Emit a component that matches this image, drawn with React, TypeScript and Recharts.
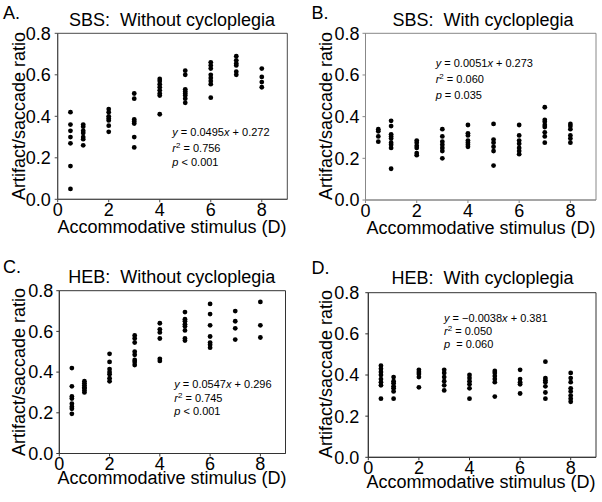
import React from 'react';
import { ScatterChart, Scatter, XAxis, YAxis, ReferenceArea } from 'recharts';

const stimulus = [0.5, 1, 2, 3, 4, 5, 6, 7, 8];
const xTicks = [0, 2, 4, 6, 8];
const yTicks = [0, 0.2, 0.4, 0.6, 0.8];

const sbsWithout: number[][] = [
  [0.42, 0.36, 0.33, 0.3, 0.27, 0.16, 0.05],
  [0.36, 0.35, 0.33, 0.32, 0.3, 0.29, 0.26],
  [0.435, 0.42, 0.4, 0.39, 0.38, 0.355, 0.325],
  [0.51, 0.485, 0.385, 0.375, 0.365, 0.3, 0.25],
  [0.58, 0.57, 0.555, 0.54, 0.525, 0.51, 0.5, 0.41],
  [0.62, 0.6, 0.53, 0.52, 0.51, 0.5, 0.485, 0.465],
  [0.66, 0.645, 0.63, 0.6, 0.585, 0.57, 0.555, 0.49],
  [0.69, 0.67, 0.655, 0.645, 0.615, 0.6],
  [0.63, 0.59, 0.565, 0.54],
];

const sbsWith: number[][] = [
  [0.34, 0.33, 0.305, 0.28],
  [0.38, 0.355, 0.315, 0.305, 0.295, 0.275, 0.265, 0.25, 0.15],
  [0.285, 0.275, 0.26, 0.25, 0.225, 0.215],
  [0.34, 0.305, 0.28, 0.265, 0.25, 0.235, 0.2],
  [0.36, 0.32, 0.31, 0.285, 0.275, 0.265, 0.255],
  [0.365, 0.29, 0.275, 0.255, 0.235, 0.165],
  [0.36, 0.31, 0.285, 0.27, 0.25, 0.235, 0.22],
  [0.445, 0.385, 0.375, 0.36, 0.35, 0.325, 0.305, 0.275],
  [0.365, 0.355, 0.34, 0.31, 0.295, 0.275],
];

const hebWithout: number[][] = [
  [0.42, 0.33, 0.28, 0.27, 0.245, 0.23, 0.22, 0.195],
  [0.355, 0.345, 0.335, 0.325, 0.32, 0.31, 0.3],
  [0.49, 0.45, 0.415, 0.4, 0.39, 0.37, 0.355],
  [0.58, 0.565, 0.545, 0.5, 0.485, 0.46, 0.45, 0.435],
  [0.64, 0.61, 0.595, 0.565, 0.465, 0.455],
  [0.695, 0.66, 0.65, 0.635, 0.625, 0.605, 0.565, 0.555],
  [0.735, 0.685, 0.63, 0.575, 0.545, 0.535, 0.52],
  [0.7, 0.65, 0.615, 0.56],
  [0.745, 0.63, 0.57],
];

const hebWith: number[][] = [
  [0.445, 0.43, 0.415, 0.4, 0.38, 0.365, 0.35, 0.285],
  [0.39, 0.37, 0.36, 0.345, 0.335, 0.32, 0.285],
  [0.425, 0.415, 0.405, 0.39, 0.34],
  [0.425, 0.41, 0.39, 0.37, 0.35, 0.325],
  [0.4, 0.385, 0.37, 0.355, 0.335, 0.285],
  [0.42, 0.41, 0.395, 0.38, 0.365, 0.295],
  [0.425, 0.38, 0.365, 0.355, 0.31],
  [0.465, 0.385, 0.375, 0.365, 0.345, 0.315, 0.285],
  [0.41, 0.385, 0.365, 0.335, 0.32, 0.3, 0.285, 0.27],
];

const FONT = '"Liberation Sans", Arial, Helvetica, sans-serif';

const toPoints = (vals: number[][]) =>
  vals.flatMap((col, i) => col.map((v) => ({ x: stimulus[i], y: v })));

const Dot = (props: any) => <circle cx={props.cx} cy={props.cy} r={2.4} fill="#000" />;

type PanelProps = {
  left: number; top: number; width: number; height: number;
  plotLeft: number; plotRight: number; plotTop: number; plotBottom: number;
  yTickMargin: number; color: string; data: number[][];
};

const Panel = (p: PanelProps) => {
  const yw = p.plotLeft - p.left;
  const xh = p.top + p.height - p.plotBottom;
  const tickStyle = { fontSize: 18, fill: '#000', fontFamily: FONT };
  return (
    <div style={{ position: 'absolute', left: p.left, top: p.top }}>
      <ScatterChart
        width={p.width}
        height={p.height}
        margin={{ top: p.plotTop - p.top, right: p.left + p.width - p.plotRight, left: 0, bottom: 0 }}
      >
        <XAxis
          type="number" dataKey="x" domain={[0, 9]} ticks={xTicks} interval={0}
          height={xh} tickSize={3} tickMargin={1} tick={tickStyle}
          axisLine={{ stroke: p.color }} tickLine={{ stroke: p.color }} allowDataOverflow
        />
        <YAxis
          type="number" dataKey="y" domain={[0, 0.8]} ticks={yTicks} interval={0}
          width={yw} tickSize={3} tickMargin={p.yTickMargin} tick={tickStyle}
          tickFormatter={(v: number) => v.toFixed(1)}
          axisLine={{ stroke: p.color }} tickLine={{ stroke: p.color }} allowDataOverflow
        />
        <ReferenceArea x1={0} x2={9} y1={0} y2={0.8} fill="none" fillOpacity={0} stroke={p.color} strokeOpacity={1} ifOverflow="visible" />
        <Scatter data={toPoints(p.data)} shape={Dot} isAnimationActive={false} />
      </ScatterChart>
    </div>
  );
};

const Ann = ({ x, ys, a, b, r2, pText }: { x: number; ys: number[]; a: string; b: string; r2: string; pText: string }) => (
  <g fontSize={11} fontFamily={FONT} fill="#000">
    <text x={x} y={ys[0]} style={{ whiteSpace: 'pre' }}>
      <tspan fontStyle="italic">y</tspan>
      <tspan>{` = ${a}`}</tspan>
      <tspan fontStyle="italic">x</tspan>
      <tspan>{` + ${b}`}</tspan>
    </text>
    <text x={x} y={ys[1]} style={{ whiteSpace: 'pre' }}>
      <tspan fontStyle="italic">r</tspan>
      <tspan dy={-4} fontSize={8}>2</tspan>
      <tspan dy={4}>{` = ${r2}`}</tspan>
    </text>
    <text x={x} y={ys[2]} style={{ whiteSpace: 'pre' }}>
      <tspan fontStyle="italic">p</tspan>
      <tspan>{pText}</tspan>
    </text>
  </g>
);

const Texts = ({ label, lx, ly, title, tx, ty, xtx, xty, ytx, yty }: any) => (
  <g fontFamily={FONT} fill="#000" fontSize={18}>
    <text x={lx} y={ly}>{label}</text>
    <text x={tx} y={ty} textAnchor="middle" style={{ whiteSpace: 'pre' }}>{title}</text>
    <text x={xtx} y={xty} textAnchor="middle">Accommodative stimulus (D)</text>
    <text transform={`translate(${ytx},${yty}) rotate(-90)`} textAnchor="middle">Artifact/saccade ratio</text>
  </g>
);

export default function App() {
  return (
    <div style={{ position: 'absolute', left: 0, top: 0, width: 602, height: 502, background: '#fff', overflow: 'hidden' }}>
      <Panel left={0} top={0} width={300} height={250} plotLeft={57.7} plotRight={287.3} plotTop={33.3} plotBottom={199.3} yTickMargin={4} color="#4a4a4a" data={sbsWithout} />
      <Panel left={300} top={0} width={302} height={250} plotLeft={365.5} plotRight={596} plotTop={33.3} plotBottom={200} yTickMargin={3} color="#888888" data={sbsWith} />
      <Panel left={0} top={250} width={300} height={252} plotLeft={59.3} plotRight={285.5} plotTop={290.7} plotBottom={453.5} yTickMargin={3} color="#333333" data={hebWithout} />
      <Panel left={300} top={250} width={302} height={252} plotLeft={368.3} plotRight={596} plotTop={292.7} plotBottom={457.3} yTickMargin={6} color="#333333" data={hebWith} />
      <svg width={602} height={502} style={{ position: 'absolute', left: 0, top: 0, pointerEvents: 'none' }}>
        <Texts label="A." lx={3} ly={19} title="SBS:  Without cycloplegia" tx={172} ty={26} xtx={172} xty={233} ytx={25} yty={116} />
        <Texts label="B." lx={311.5} ly={19} title="SBS:  With cycloplegia" tx={483} ty={26} xtx={481} xty={233.5} ytx={331.5} yty={116} />
        <Texts label="C." lx={3} ly={273} title="HEB:  Without cycloplegia" tx={171.7} ty={283} xtx={172} xty={484} ytx={25} yty={372} />
        <Texts label="D." lx={311.5} ly={274} title="HEB:  With cycloplegia" tx={482.5} ty={284} xtx={481} xty={487.5} ytx={331.5} yty={374} />
        <Ann x={172.3} ys={[136, 151.5, 166]} a="0.0495" b="0.272" r2="0.756" pText=" < 0.001" />
        <Ann x={435.7} ys={[67, 83, 98.5]} a="0.0051" b="0.273" r2="0.060" pText=" = 0.035" />
        <Ann x={174.3} ys={[388, 401.5, 414.5]} a="0.0547" b="0.296" r2="0.745" pText=" < 0.001" />
        <Ann x={444} ys={[322, 335, 347.5]} a={'\u22120.0038'} b="0.381" r2="0.050" pText="  = 0.060" />
      </svg>
    </div>
  );
}
